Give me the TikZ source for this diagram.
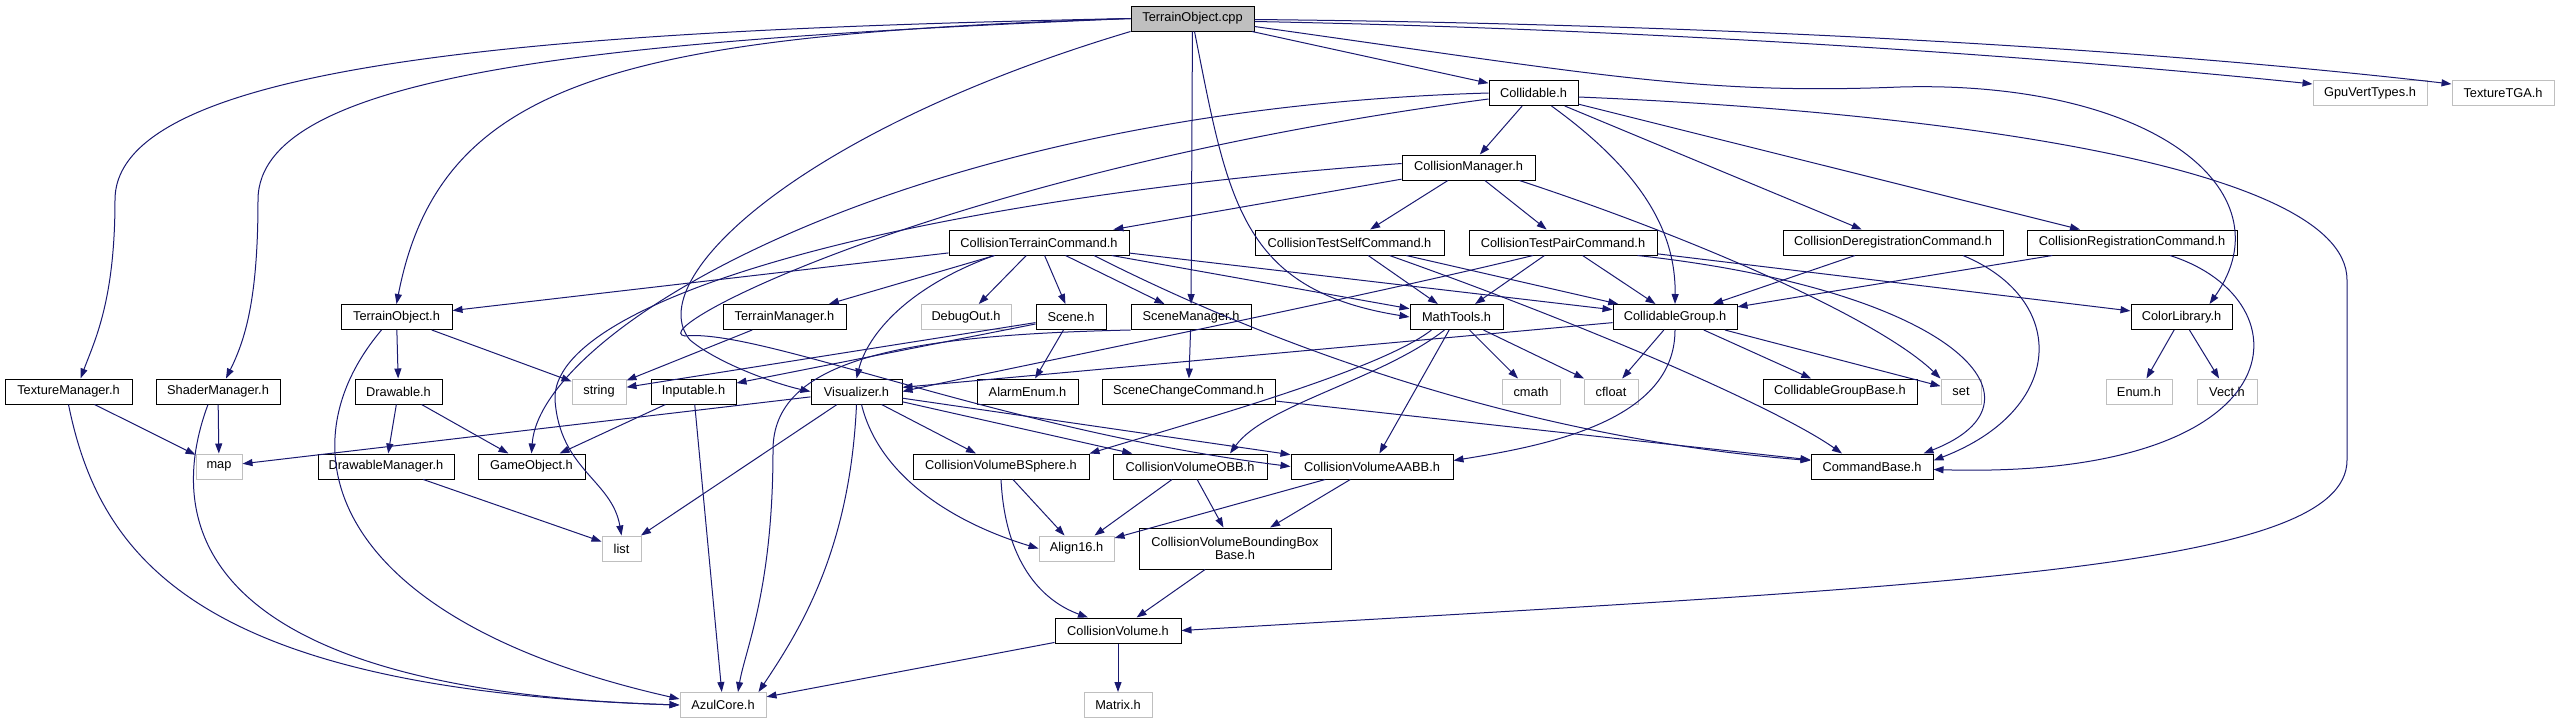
\documentclass[tikz,border=0pt]{standalone}
\usepackage{fontspec}
\setmainfont{Liberation Sans}
\usetikzlibrary{arrows.meta}
\definecolor{edgeblue}{HTML}{191970}
\definecolor{boxgray}{HTML}{BFBFBF}

\begin{document}
\begin{tikzpicture}[x=1pt,y=-1pt,font=\fontsize{12.8}{13.5}\selectfont,
  hdr/.style={draw=black,fill=white,line width=1pt,inner sep=0pt,minimum height=25pt},
  sys/.style={hdr,draw=boxgray},
  root/.style={hdr,fill=boxgray},
  dep/.style={draw=edgeblue,line width=1pt,-{Triangle[length=10pt,width=7pt]}},
]

\useasboundingbox (0,0) rectangle (2563,724);

%% ================================================================
%%  Nodes, row by row (pixel positions of the box centres)
%% ================================================================
\node[root,minimum width=123pt] (cpp) at (1192.5,18.5) {TerrainObject.cpp};

\node[hdr,minimum width=89pt]  (coll) at (1533.5,93) {Collidable.h};
\node[sys,minimum width=114pt] (gpu)  at (2370,93)   {GpuVertTypes.h};
\node[sys,minimum width=102pt] (tga)  at (2503,93)   {TextureTGA.h};

\node[hdr,minimum width=133pt] (cmgr) at (1468.5,167.5) {CollisionManager.h};

\node[hdr,minimum width=180pt] (ctc)    at (1039,242.5)   {CollisionTerrainCommand.h};
\node[hdr,minimum width=189pt] (cself)  at (1349.5,242.5) {CollisionTestSelfCommand.h};
\node[hdr,minimum width=188pt] (cpair)  at (1563,242.5)   {CollisionTestPairCommand.h};
\node[hdr,minimum width=220pt] (cdereg) at (1893,242.5)   {CollisionDeregistrationCommand.h};
\node[hdr,minimum width=210pt] (creg)   at (2132,242.5)   {CollisionRegistrationCommand.h};

\node[hdr,minimum width=111pt] (tobj)  at (396.5,317)  {TerrainObject.h};
\node[hdr,minimum width=123pt] (tmgr)  at (784.5,317)  {TerrainManager.h};
\node[sys,minimum width=90pt]  (dbg)   at (966,317)    {DebugOut.h};
\node[hdr,minimum width=70pt]  (scene) at (1071,317)   {Scene.h};
\node[hdr,minimum width=120pt] (smgr)  at (1191,317)   {SceneManager.h};
\node[hdr,minimum width=93pt]  (math)  at (1456.5,317) {MathTools.h};
\node[hdr,minimum width=124pt] (cgrp)  at (1675,317)   {CollidableGroup.h};
\node[hdr,minimum width=101pt] (color) at (2181.5,317) {ColorLibrary.h};

\node[hdr,minimum width=127pt] (texm)   at (68.5,391.5)   {TextureManager.h};
\node[hdr,minimum width=124pt] (shdm)   at (218,391.5)    {ShaderManager.h};
\node[hdr,minimum width=87pt]  (drw)    at (398.5,391.5)  {Drawable.h};
\node[sys,minimum width=54pt]  (str)    at (599,391.5)    {string};
\node[hdr,minimum width=85pt]  (inp)    at (693.5,391.5)  {Inputable.h};
\node[hdr,minimum width=91pt]  (vis)    at (856.5,391.5)  {Visualizer.h};
\node[hdr,minimum width=101pt] (alarm)  at (1027.5,391.5) {AlarmEnum.h};
\node[hdr,minimum width=173pt] (schg)   at (1188.5,391.5) {SceneChangeCommand.h};
\node[sys,minimum width=58pt]  (cmath)  at (1531,391.5)   {cmath};
\node[sys,minimum width=54pt]  (cfloat) at (1611,391.5)   {cfloat};
\node[hdr,minimum width=154pt] (cgb)    at (1840,391.5)   {CollidableGroupBase.h};
\node[sys,minimum width=40pt]  (set)    at (1961,391.5)   {set};
\node[sys,minimum width=66pt]  (enum)   at (2139,391.5)   {Enum.h};
\node[sys,minimum width=60pt]  (vect)   at (2227,391.5)   {Vect.h};

\node[sys,minimum width=46pt]  (map)   at (219,466.5)  {map};
\node[hdr,minimum width=136pt] (dmgr)  at (386,466.5)  {DrawableManager.h};
\node[hdr,minimum width=107pt] (gobj)  at (531.5,466.5) {GameObject.h};
\node[hdr,minimum width=176pt] (bsph)  at (1001,466.5) {CollisionVolumeBSphere.h};
\node[hdr,minimum width=154pt] (obb)   at (1190,466.5) {CollisionVolumeOBB.h};
\node[hdr,minimum width=162pt] (aabb)  at (1372,466.5) {CollisionVolumeAABB.h};
\node[hdr,minimum width=122pt] (cbase) at (1872,466.5) {CommandBase.h};

\node[sys,minimum width=39pt]  (list) at (621.5,548.5) {list};
\node[sys,minimum width=75pt]  (al16) at (1076.5,548.5) {Align16.h};
\node[hdr,minimum width=192pt,minimum height=41pt,align=center] (bbb) at (1235,548.5)
  {CollisionVolumeBoundingBox\\Base.h};

\node[hdr,minimum width=126pt] (cvol)   at (1118,630.5) {CollisionVolume.h};
\node[sys,minimum width=86pt]  (azul)   at (723,705)    {AzulCore.h};
\node[sys,minimum width=68pt]  (matrix) at (1118,705)   {Matrix.h};

%% ================================================================
%%  TerrainObject.cpp
%% ================================================================
\draw[dep] (cpp.west) .. controls (560,30) and (115,60) .. (115,200)
  .. controls (115,300) and (95,340) .. ([xshift=12pt]texm.north);
\draw[dep] (cpp.west) .. controls (620,40) and (258,70) .. (258,200)
  .. controls (258,300) and (245,340) .. ([xshift=8pt]shdm.north);
\draw[dep] (cpp.west) .. controls (620,35) and (440,80) .. (tobj.north);
\draw[dep] (cpp.south west) .. controls (800,130) and (640,280) .. (690,340)
  .. controls (720,365) and (780,385) .. (vis.west);
\draw[dep] (cpp) -- (smgr);
\draw[dep] ([xshift=2pt]cpp.south) .. controls (1228,200) and (1240,290) .. (math.west);
\draw[dep] (cpp) -- (coll);
\draw[dep] ([yshift=-8pt]cpp.east) .. controls (1600,75) and (1700,95) .. (1900,87)
  .. controls (2150,80) and (2290,190) .. ([xshift=28pt]color.north);
\draw[dep] ([yshift=-3pt]cpp.east) .. controls (1700,30) and (2100,62) .. ([yshift=-4pt]gpu.north west);
\draw[dep] ([yshift=-1pt]cpp.east) .. controls (1800,25) and (2200,55) .. ([yshift=-4pt]tga.north west);

%% ================================================================
%%  Collidable / CollisionManager
%% ================================================================
\draw[dep] (coll) -- (cmgr);
\draw[dep] ([xshift=18pt]coll.south) .. controls (1640,170) and (1676,230) .. (cgrp.north);
\draw[dep] (coll) -- (cdereg);
\draw[dep] (coll) -- (creg);
\draw[dep] ([yshift=-4pt]coll.east) .. controls (1900,110) and (2347,160) .. (2347,280)
  -- (2347,460) .. controls (2347,570) and (1950,585) .. (cvol.east);
\draw[dep] (coll.west) .. controls (900,110) and (540,330) .. (gobj.north);
\draw[dep] ([yshift=-6pt]coll.west) .. controls (950,170) and (640,330) .. (685,336)
  .. controls (760,328) and (1000,430) .. (aabb.west);

\draw[dep] (cmgr) -- (ctc);
\draw[dep] (cmgr) -- (cself);
\draw[dep] (cmgr) -- (cpair);
\draw[dep] ([xshift=-16pt]cmgr.south east) .. controls (1700,240) and (1880,320) .. (set.north west);
\draw[dep] ([yshift=4pt]cmgr.west) .. controls (900,200) and (550,300) .. (555,400)
  .. controls (560,470) and (612,480) .. (list.north);

%% ================================================================
%%  Commands
%% ================================================================
\draw[dep] (ctc) -- (tobj);
\draw[dep] (ctc) -- (tmgr);
\draw[dep] ([xshift=-45pt]ctc.south) .. controls (900,290) and (866,340) .. (vis.north);
\draw[dep] (ctc) -- (dbg);
\draw[dep] (ctc) -- (scene);
\draw[dep] (ctc) -- (smgr);
\draw[dep] (ctc) -- (math);
\draw[dep] (ctc) -- (cgrp);
\draw[dep] ([xshift=55pt]ctc.south) .. controls (1300,360) and (1550,440) .. ([yshift=6pt]cbase.west);

\draw[dep] (cself) -- (math);
\draw[dep] (cself) -- (cgrp);
\draw[dep] ([xshift=40pt]cself.south) .. controls (1600,330) and (1780,410) .. ([xshift=-30pt]cbase.north);

\draw[dep] (cpair) -- (math);
\draw[dep] (cpair) -- (cgrp);
\draw[dep] ([xshift=-30pt]cpair.south) .. controls (1350,300) and (1000,370) .. (vis.east);
\draw[dep] (cpair) -- (color);
\draw[dep] ([xshift=-20pt]cpair.south east) .. controls (1950,290) and (2060,400) .. ([xshift=-10pt]cbase.north east);

\draw[dep] (cdereg) -- (cgrp);
\draw[dep] ([xshift=70pt]cdereg.south) .. controls (2070,300) and (2065,410) .. ([yshift=6pt]cbase.east);
\draw[dep] (creg) -- (cgrp);
\draw[dep] ([xshift=38pt]creg.south) .. controls (2310,300) and (2300,480) .. ([yshift=-3pt]cbase.east);

%% ================================================================
%%  CollidableGroup / MathTools
%% ================================================================
\draw[dep] (cgrp) -- (vis);
\draw[dep] (cgrp) -- (cgb);
\draw[dep] (cgrp) -- (set);
\draw[dep] (cgrp) -- (cfloat);
\draw[dep] (cgrp.south) .. controls (1675,420) and (1550,445) .. ([yshift=6pt]aabb.east);

\draw[dep] ([xshift=-25pt]math.south) .. controls (1380,370) and (1200,420) .. (bsph.north east);
\draw[dep] ([xshift=-12pt]math.south) .. controls (1380,380) and (1265,405) .. ([xshift=40pt]obb.north);
\draw[dep] (math) -- (aabb);
\draw[dep] (math) -- (cmath);
\draw[dep] (math) -- (cfloat);

%% ================================================================
%%  Scenes, terrain, drawables
%% ================================================================
\draw[dep] (scene) -- (alarm);
\draw[dep] (scene) -- (str);
\draw[dep] (scene) -- (inp);
\draw[dep] (smgr.south west) .. controls (900,335) and (773,360) .. (773,450)
  .. controls (773,590) and (745,650) .. ([xshift=15pt]azul.north);
\draw[dep] (smgr) -- (schg);
\draw[dep] (schg) -- (cbase);

\draw[dep] (tobj) -- (drw);
\draw[dep] (tobj) -- (str);
\draw[dep] ([xshift=-15pt]tobj.south) .. controls (280,450) and (330,620) .. ([yshift=6pt]azul.west);
\draw[dep] (tmgr) -- (str);
\draw[dep] (drw) -- (dmgr);
\draw[dep] (drw) -- (gobj);
\draw[dep] (dmgr) -- (list);
\draw[dep] (inp) -- (gobj);
\draw[dep] (inp) -- (azul);

\draw[dep] (texm) -- (map);
\draw[dep] (texm.south) .. controls (100,560) and (200,690) .. (azul.west);
\draw[dep] (shdm) -- (map);
\draw[dep] ([xshift=-10pt]shdm.south) .. controls (165,520) and (190,690) .. (azul.west);

%% ================================================================
%%  Visualizer and collision volumes
%% ================================================================
\draw[dep] (vis) -- (map);
\draw[dep] (vis) -- (list);
\draw[dep] (vis.south) .. controls (850,550) and (800,630) .. ([xshift=-8pt]azul.north east);
\draw[dep] ([xshift=5pt]vis.south) .. controls (880,480) and (960,525) .. (al16.west);
\draw[dep] (vis) -- (bsph);
\draw[dep] (vis) -- (obb);
\draw[dep] (vis) -- (aabb);

\draw[dep] (bsph) -- (al16);
\draw[dep] (bsph.south) .. controls (1005,560) and (1040,600) .. ([xshift=-30pt]cvol.north);
\draw[dep] (obb) -- (al16);
\draw[dep] (obb) -- (bbb);
\draw[dep] (aabb) -- (al16);
\draw[dep] (aabb) -- (bbb);
\draw[dep] (bbb) -- (cvol);
\draw[dep] (cvol) -- (azul);
\draw[dep] (cvol) -- (matrix);

\draw[dep] (color) -- (enum);
\draw[dep] (color) -- (vect);

\end{tikzpicture}
\end{document}
